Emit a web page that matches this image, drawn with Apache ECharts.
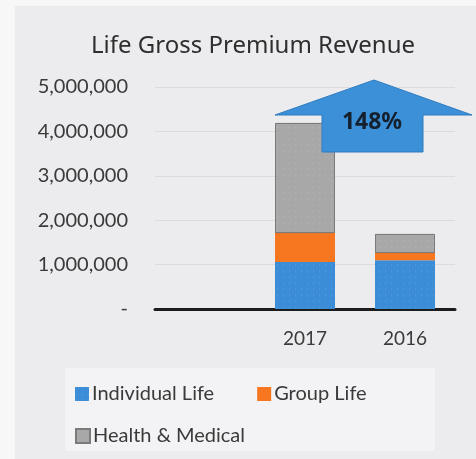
<!DOCTYPE html>
<html>
<head>
<meta charset="utf-8">
<script src="https://cdn.jsdelivr.net/npm/echarts@6/dist/echarts.min.js"></script>
<style>
  html, body { margin: 0; padding: 0; background: #f8f7f8; }
  #chart { width: 476px; height: 459px; }
</style>
</head>
<body>
<div id="chart"></div>
<script>
// first category is left empty, as in the original layout
const categories = ['', '2017', '2016']
const individualLife = [null, 1060000, 1100000]
const groupLife = [null, 650000, 160000]
const healthMedical = [null, 2480000, 430000]
const yTicks = [0, 1000000, 2000000, 3000000, 4000000, 5000000]
const growthLabel = '148%'

const FONT = 'Lato'

let dots = {
  symbol: 'circle',
  symbolSize: 0.5,
  color: 'rgba(255,255,255,0.25)',
  dashArrayX: [[3, 3]],
  dashArrayY: [2, 4]
}

let chart = echarts.init(document.getElementById('chart'))
let option = {
  backgroundColor: 'transparent',
  title: {
    text: 'Life Gross Premium Revenue',
    left: 86,
    top: 29,
    textStyle: {
      fontFamily: 'Noto Sans',
      fontWeight: 'normal',
      fontSize: 24,
      color: '#2e2e2e'
    }
  },
  graphic: [
    {
      type: 'rect',
      z: -10,
      silent: true,
      shape: { x: 15, y: 6, width: 461, height: 453 },
      style: { fill: '#ecebed' }
    },
    {
      type: 'rect',
      z: -9,
      silent: true,
      shape: { x: 65, y: 368, width: 370, height: 83 },
      style: { fill: '#f3f2f4' }
    },
    {
      type: 'polygon',
      z: 100,
      shape: {
        points: [[275, 115], [374, 80], [472, 115], [423, 115], [423, 152], [322, 152], [322, 115]]
      },
      style: { fill: '#3b90d8', stroke: '#2f7cc0', lineWidth: 1 }
    },
    {
      type: 'text',
      z: 101,
      x: 372,
      y: 122,
      style: {
        text: growthLabel,
        align: 'center',
        verticalAlign: 'middle',
        fontFamily: 'Noto Sans',
        fontWeight: 'bold',
        fontSize: 23,
        fill: '#15202e'
      }
    }
  ],
  legend: [
    {
      data: ['Individual Life', 'Group Life'],
      left: 70,
      top: 379,
      itemGap: 43,
      itemWidth: 14,
      itemHeight: 14,
      icon: 'rect',
      textStyle: { fontFamily: FONT, fontSize: 20, color: '#3a3a3a', padding: [0, 0, 0, -2] }
    },
    {
      data: ['Health & Medical'],
      left: 70,
      top: 421,
      itemWidth: 14,
      itemHeight: 14,
      icon: 'rect',
      textStyle: { fontFamily: FONT, fontSize: 20, color: '#3a3a3a', padding: [0, 0, 0, -2] }
    }
  ],
  grid: {
    top: 87,
    left: 155,
    right: 21,
    bottom: 150,
    containLabel: false
  },
  xAxis: {
    type: 'category',
    data: categories,
    axisLine: { lineStyle: { color: '#1c1c1c', width: 3 } },
    axisTick: { show: false },
    axisLabel: {
      fontFamily: FONT,
      fontSize: 19,
      color: '#3a3a3a',
      margin: 20
    }
  },
  yAxis: {
    type: 'value',
    min: yTicks[0],
    max: yTicks[yTicks.length - 1],
    interval: yTicks[1] - yTicks[0],
    axisLine: { show: false },
    axisTick: { show: false },
    splitLine: { lineStyle: { color: '#dcdbdd', width: 1 } },
    axisLabel: {
      fontFamily: FONT,
      fontSize: 20,
      color: '#3a3a3a',
      margin: 27,
      formatter: v => v === 0 ? '-' : v.toLocaleString('en-US')
    }
  },
  series: [
    {
      name: 'Individual Life',
      type: 'bar',
      stack: 'total',
      barWidth: 60,
      data: individualLife,
      itemStyle: { color: '#3a8dd6', decal: dots }
    },
    {
      name: 'Group Life',
      type: 'bar',
      stack: 'total',
      barWidth: 60,
      data: groupLife,
      itemStyle: { color: '#f6771f' }
    },
    {
      name: 'Health & Medical',
      type: 'bar',
      stack: 'total',
      barWidth: 60,
      data: healthMedical,
      itemStyle: { color: '#a9a8a9', borderColor: '#7c7b7c', borderWidth: 1, decal: dots }
    }
  ]
}
chart.setOption(option)
</script>
</body>
</html>
